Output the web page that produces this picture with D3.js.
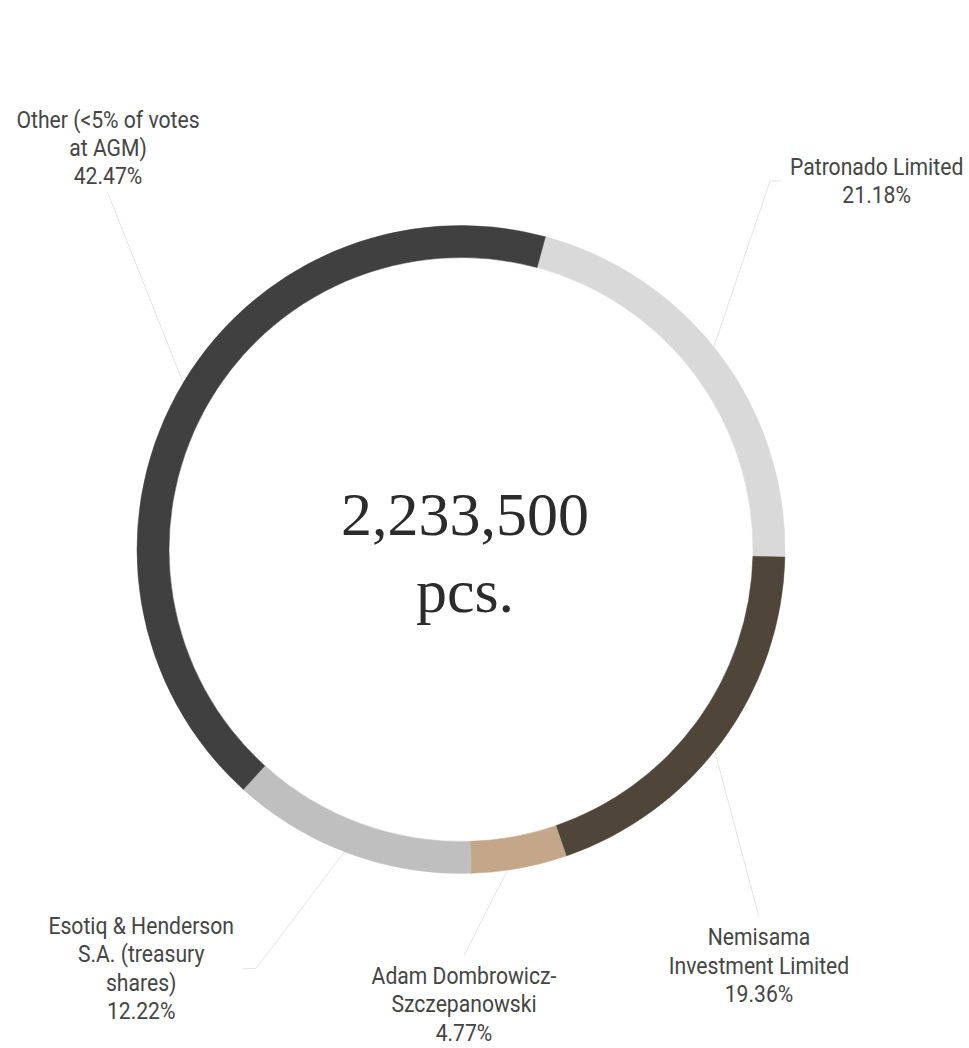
<!DOCTYPE html>
<html>
<head>
<meta charset="utf-8">
<script src="https://cdn.jsdelivr.net/npm/d3@7"></script>
<style>
  html, body { margin: 0; padding: 0; background: #ffffff; }
  svg { display: block; }
</style>
</head>
<body>
<div id="chart"></div>
<script>
// ---- data ----
const categories = [
  "Patronado Limited",
  "Nemisama Investment Limited",
  "Adam Dombrowicz-Szczepanowski",
  "Esotiq & Henderson S.A. (treasury shares)",
  "Other (<5% of votes at AGM)"
];
const shares = [21.18, 19.36, 4.77, 12.22, 42.47];
const labelLines = [
  ["Patronado Limited"],
  ["Nemisama", "Investment Limited"],
  ["Adam Dombrowicz-", "Szczepanowski"],
  ["Esotiq & Henderson", "S.A. (treasury", "shares)"],
  ["Other (<5% of votes", "at AGM)"]
];
const totalLines = ["2,233,500", "pcs."];

// ---- styles / layout ----
const colors = ["#d9d9d9", "#4f4538", "#c4a788", "#bfbfbf", "#404040"];
const W = 969, H = 1048;
const cx = 461, cy = 549.5;
const outerR = 324, innerR = 292;
const startDeg = 15.1;
// label anchor (end of leader) relative to centre, placement and stub length
const labelLayout = [
  { dx: 309, dy: -368.5, place: "right", stub: 11 },
  { dx: 298, dy: 367.5, place: "below", stub: 0 },
  { dx: 3, dy: 406, place: "below", stub: 0 },
  { dx: -205, dy: 419, place: "left", stub: 13 },
  { dx: -353, dy: -356, place: "above", stub: 0 }
];
const fontSize = 23, lineH = 28.5, capH = 16.4, scaleX = 0.92, gap = 9;

const svg = d3.select("#chart").append("svg")
  .attr("width", W).attr("height", H);

const pie = d3.pie().sort(null).value(d => d)
  .startAngle(startDeg * Math.PI / 180)
  .endAngle(startDeg * Math.PI / 180 + 2 * Math.PI);
const arcs = pie(shares);
const arc = d3.arc().innerRadius(innerR).outerRadius(outerR);
const midArc = d3.arc().innerRadius((innerR + outerR) / 2).outerRadius((innerR + outerR) / 2);

const g = svg.append("g").attr("transform", `translate(${cx},${cy})`);

// leader lines
const fmt = d3.format(".2f");
arcs.forEach((a, i) => {
  const L = labelLayout[i];
  const [sx, sy] = midArc.centroid(a);
  const pts = [[sx, sy], [L.dx, L.dy]];
  if (L.place === "right") pts.push([L.dx + L.stub, L.dy]);
  if (L.place === "left") pts.push([L.dx - L.stub, L.dy]);
  g.append("path")
    .attr("d", d3.line()(pts))
    .attr("fill", "none")
    .attr("stroke", "#e7e3de")
    .attr("stroke-width", 1);
});

// ring
g.selectAll("path.slice").data(arcs).enter().append("path")
  .attr("class", "slice")
  .attr("d", arc)
  .attr("fill", (d, i) => colors[i])
  .attr("stroke", (d, i) => colors[i])
  .attr("stroke-width", 0.5);

// labels
arcs.forEach((a, i) => {
  const L = labelLayout[i];
  const lines = labelLines[i].concat([fmt(shares[i]) + "%"]);
  const n = lines.length;
  const lg = g.append("g");
  const inner = lg.append("g").attr("transform", `scale(${scaleX},1)`);
  const texts = lines.map((t, k) => inner.append("text")
    .attr("x", 0).attr("y", k * lineH)
    .attr("text-anchor", "middle")
    .attr("font-family", "Roboto, 'Noto Sans', sans-serif")
    .attr("font-weight", 400)
    .attr("font-size", fontSize)
    .attr("fill", "#454545")
    .text(t));
  const wMax = d3.max(texts, t => t.node().getComputedTextLength()) * scaleX;
  let tx, ty;
  if (L.place === "above") {
    tx = L.dx; ty = L.dy - gap - (n - 1) * lineH;
  } else if (L.place === "below") {
    tx = L.dx; ty = L.dy + 12 + capH;
  } else {
    const blockH = capH + (n - 1) * lineH;
    ty = L.dy - blockH / 2 + capH;
    if (L.place === "right") tx = L.dx + L.stub + gap + wMax / 2;
    else tx = L.dx - L.stub - gap - wMax / 2;
  }
  lg.attr("transform", `translate(${tx},${ty})`);
});

// centre total
const ct = g.append("g");
totalLines.forEach((t, k) => {
  ct.append("text")
    .attr("x", 4).attr("y", -15 + k * 77)
    .attr("text-anchor", "middle")
    .attr("font-family", "'Liberation Serif', 'DejaVu Serif', serif")
    .attr("font-size", 62)
    .attr("fill", "#2b2b2b")
    .text(t);
});
</script>
</body>
</html>
